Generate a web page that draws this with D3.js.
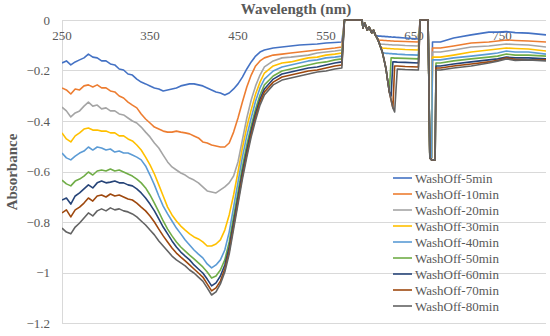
<!DOCTYPE html>
<html lang="en">
<head>
<meta charset="UTF-8">
<title>WashOff absorbance</title>
<script src="https://cdn.jsdelivr.net/npm/d3@7"></script>
<style>
    body{ margin:0; background:#fff; }
    .tickText{ font-family:"Liberation Serif", serif; font-size:13px; fill:#595959; }
    .axisTitle{ font-family:"Liberation Serif", serif; font-size:15px; font-weight:bold; fill:#595959; }
    .legendText{ font-family:"Liberation Serif", serif; font-size:13px; fill:#595959; }
    .grid{ stroke:#d9d9d9; stroke-width:1; }
    .series{ fill:none; stroke-width:1.6; stroke-linejoin:round; }
</style>
</head>
<body>
<svg width="550" height="336"></svg>
<script>
    // wavelength (nm)
    const wavelengths = [
        250,255,260,265,270,275,280,285,290,295,
        300,305,310,315,320,325,330,335,340,345,
        350,355,360,365,370,375,380,385,390,395,
        400,405,410,415,420,425,430,435,440,445,
        450,455,460,465,470,475,480,
        490,500,510,520,530,540,550,560,568,
        571,588,591,592,594,597,599,602,604,606,
        608,610,612,614,616,618,620,622,624,626,
        628,631,640,655,657,666,668,670,671,674,675,
        680,695,715,735,745,755,765,780,800
    ];

    const seriesNames = ["WashOff-5min","WashOff-10min","WashOff-20min","WashOff-30min","WashOff-40min",
        "WashOff-50min","WashOff-60min","WashOff-70min","WashOff-80min"];
    const seriesColors = ["#4472C4","#ED7D31","#A5A5A5","#FFC000","#5B9BD5","#70AD47","#264478","#9E480E","#636363"];

    const wash5 = [
        -0.170,-0.162,-0.178,-0.166,-0.158,-0.150,-0.135,-0.147,-0.150,-0.162,
        -0.162,-0.174,-0.178,-0.194,-0.198,-0.214,-0.218,-0.234,-0.246,-0.253,
        -0.261,-0.269,-0.273,-0.281,-0.277,-0.273,-0.269,-0.261,-0.257,-0.253,
        -0.253,-0.257,-0.261,-0.269,-0.277,-0.285,-0.289,-0.297,-0.289,-0.273,
        -0.253,-0.226,-0.194,-0.166,-0.143,-0.127,-0.119,
        -0.111,-0.107,-0.103,-0.099,-0.097,-0.095,-0.091,-0.089,-0.087,
        0,0,0,-0.032,-0.012,-0.040,-0.028,-0.051,-0.040,-0.059,
        -0.063,-0.064,-0.064,-0.065,-0.065,-0.066,-0.066,-0.067,-0.067,-0.068,
        -0.068,-0.069,-0.071,-0.075,0,0,-0.546,-0.546,-0.087,-0.087,-0.087,
        -0.087,-0.071,-0.059,-0.048,-0.048,-0.046,-0.050,-0.052,-0.059
    ];
    const wash10 = [
        -0.269,-0.277,-0.293,-0.273,-0.277,-0.261,-0.257,-0.265,-0.257,-0.269,
        -0.269,-0.281,-0.285,-0.301,-0.309,-0.325,-0.337,-0.348,-0.372,-0.392,
        -0.408,-0.424,-0.432,-0.440,-0.444,-0.444,-0.440,-0.444,-0.447,-0.451,
        -0.459,-0.467,-0.483,-0.487,-0.495,-0.499,-0.503,-0.503,-0.487,-0.444,
        -0.388,-0.325,-0.265,-0.218,-0.182,-0.162,-0.150,
        -0.139,-0.135,-0.131,-0.127,-0.123,-0.119,-0.115,-0.111,-0.107,
        0,0,0,-0.032,-0.012,-0.040,-0.028,-0.051,-0.040,-0.059,
        -0.071,-0.079,-0.080,-0.080,-0.081,-0.081,-0.082,-0.082,-0.083,-0.083,
        -0.084,-0.084,-0.085,-0.087,0,0,-0.546,-0.546,-0.111,-0.111,-0.111,
        -0.111,-0.103,-0.091,-0.087,-0.083,-0.079,-0.081,-0.083,-0.087
    ];
    const wash20 = [
        -0.345,-0.360,-0.384,-0.368,-0.360,-0.341,-0.325,-0.341,-0.337,-0.352,
        -0.348,-0.360,-0.360,-0.372,-0.376,-0.388,-0.400,-0.408,-0.424,-0.444,
        -0.463,-0.487,-0.507,-0.535,-0.562,-0.582,-0.594,-0.606,-0.614,-0.626,
        -0.634,-0.645,-0.661,-0.677,-0.681,-0.685,-0.673,-0.661,-0.645,-0.618,
        -0.562,-0.475,-0.388,-0.317,-0.261,-0.218,-0.186,
        -0.162,-0.150,-0.147,-0.143,-0.139,-0.131,-0.127,-0.123,-0.119,
        0,0,0,-0.032,-0.012,-0.040,-0.028,-0.051,-0.040,-0.059,
        -0.071,-0.087,-0.095,-0.096,-0.096,-0.097,-0.097,-0.098,-0.098,-0.099,
        -0.099,-0.099,-0.101,-0.103,0,0,-0.546,-0.546,-0.127,-0.127,-0.127,
        -0.127,-0.119,-0.107,-0.103,-0.099,-0.095,-0.097,-0.099,-0.107
    ];
    const wash30 = [
        -0.447,-0.471,-0.483,-0.459,-0.447,-0.432,-0.428,-0.436,-0.436,-0.440,
        -0.440,-0.447,-0.447,-0.459,-0.459,-0.471,-0.479,-0.495,-0.515,-0.543,
        -0.574,-0.610,-0.653,-0.697,-0.741,-0.772,-0.796,-0.816,-0.832,-0.847,
        -0.859,-0.867,-0.879,-0.895,-0.895,-0.887,-0.871,-0.832,-0.772,-0.693,
        -0.602,-0.507,-0.424,-0.356,-0.293,-0.246,-0.210,
        -0.182,-0.170,-0.166,-0.158,-0.150,-0.147,-0.139,-0.135,-0.131,
        0,0,0,-0.032,-0.012,-0.040,-0.028,-0.051,-0.040,-0.059,
        -0.071,-0.087,-0.107,-0.111,-0.112,-0.112,-0.113,-0.113,-0.114,-0.114,
        -0.115,-0.115,-0.117,-0.119,0,0,-0.546,-0.546,-0.147,-0.147,-0.147,
        -0.147,-0.139,-0.127,-0.119,-0.115,-0.111,-0.113,-0.115,-0.123
    ];
    const wash40 = [
        -0.527,-0.546,-0.554,-0.539,-0.527,-0.519,-0.503,-0.515,-0.503,-0.507,
        -0.515,-0.511,-0.523,-0.519,-0.527,-0.527,-0.535,-0.543,-0.554,-0.578,
        -0.614,-0.653,-0.697,-0.737,-0.768,-0.796,-0.824,-0.847,-0.871,-0.891,
        -0.911,-0.927,-0.942,-0.966,-0.982,-0.970,-0.950,-0.911,-0.840,-0.741,
        -0.642,-0.543,-0.459,-0.388,-0.321,-0.269,-0.234,
        -0.202,-0.186,-0.178,-0.170,-0.162,-0.158,-0.150,-0.147,-0.143,
        0,0,0,-0.032,-0.012,-0.040,-0.028,-0.051,-0.040,-0.059,
        -0.071,-0.087,-0.107,-0.127,-0.131,-0.132,-0.132,-0.133,-0.133,-0.134,
        -0.134,-0.135,-0.137,-0.139,0,0,-0.546,-0.546,-0.158,-0.158,-0.158,
        -0.158,-0.150,-0.143,-0.135,-0.131,-0.123,-0.127,-0.127,-0.135
    ];
    const wash50 = [
        -0.634,-0.649,-0.657,-0.638,-0.630,-0.618,-0.602,-0.614,-0.598,-0.594,
        -0.598,-0.590,-0.598,-0.594,-0.602,-0.610,-0.618,-0.630,-0.645,-0.665,
        -0.693,-0.725,-0.760,-0.796,-0.828,-0.855,-0.879,-0.899,-0.915,-0.931,
        -0.946,-0.962,-0.978,-0.998,-1.022,-1.014,-0.990,-0.950,-0.879,-0.780,
        -0.681,-0.582,-0.495,-0.420,-0.352,-0.297,-0.257,
        -0.222,-0.202,-0.194,-0.186,-0.178,-0.170,-0.166,-0.158,-0.154,
        0,0,0,-0.032,-0.012,-0.040,-0.028,-0.051,-0.040,-0.059,
        -0.071,-0.087,-0.107,-0.127,-0.158,-0.190,-0.238,-0.285,-0.150,-0.150,
        -0.151,-0.151,-0.152,-0.154,0,0,-0.546,-0.554,-0.554,-0.554,-0.170,
        -0.170,-0.162,-0.154,-0.147,-0.143,-0.135,-0.139,-0.139,-0.143
    ];
    const wash60 = [
        -0.713,-0.705,-0.729,-0.697,-0.685,-0.669,-0.653,-0.665,-0.645,-0.638,
        -0.645,-0.642,-0.638,-0.645,-0.645,-0.653,-0.657,-0.669,-0.685,-0.705,
        -0.729,-0.756,-0.788,-0.820,-0.847,-0.875,-0.899,-0.919,-0.935,-0.950,
        -0.970,-0.986,-1.002,-1.026,-1.053,-1.041,-1.014,-0.970,-0.899,-0.800,
        -0.701,-0.602,-0.515,-0.436,-0.368,-0.313,-0.273,
        -0.234,-0.214,-0.206,-0.198,-0.190,-0.186,-0.178,-0.170,-0.166,
        0,0,0,-0.032,-0.012,-0.040,-0.028,-0.051,-0.040,-0.059,
        -0.071,-0.087,-0.107,-0.127,-0.158,-0.190,-0.238,-0.285,-0.301,-0.166,
        -0.166,-0.167,-0.168,-0.170,0,0,-0.546,-0.554,-0.554,-0.554,-0.182,
        -0.182,-0.174,-0.166,-0.158,-0.154,-0.147,-0.150,-0.150,-0.154
    ];
    const wash70 = [
        -0.764,-0.752,-0.780,-0.752,-0.741,-0.725,-0.705,-0.717,-0.697,-0.693,
        -0.701,-0.689,-0.697,-0.693,-0.701,-0.709,-0.713,-0.725,-0.741,-0.756,
        -0.776,-0.800,-0.828,-0.855,-0.879,-0.903,-0.923,-0.939,-0.954,-0.970,
        -0.986,-1.002,-1.018,-1.045,-1.073,-1.061,-1.034,-0.986,-0.915,-0.816,
        -0.717,-0.618,-0.531,-0.451,-0.384,-0.325,-0.285,
        -0.246,-0.226,-0.218,-0.210,-0.202,-0.198,-0.190,-0.182,-0.178,
        0,0,0,-0.032,-0.012,-0.040,-0.028,-0.051,-0.040,-0.059,
        -0.071,-0.087,-0.107,-0.127,-0.158,-0.190,-0.238,-0.285,-0.317,-0.348,
        -0.182,-0.182,-0.184,-0.186,0,0,-0.546,-0.554,-0.554,-0.554,-0.190,
        -0.190,-0.182,-0.174,-0.166,-0.160,-0.150,-0.156,-0.158,-0.158
    ];
    const wash80 = [
        -0.824,-0.840,-0.847,-0.820,-0.804,-0.784,-0.764,-0.776,-0.756,-0.748,
        -0.756,-0.744,-0.752,-0.748,-0.756,-0.760,-0.768,-0.780,-0.796,-0.812,
        -0.832,-0.851,-0.875,-0.895,-0.915,-0.935,-0.950,-0.962,-0.974,-0.990,
        -1.002,-1.018,-1.034,-1.061,-1.089,-1.077,-1.045,-0.998,-0.927,-0.828,
        -0.729,-0.630,-0.543,-0.463,-0.396,-0.337,-0.297,
        -0.257,-0.238,-0.230,-0.222,-0.214,-0.206,-0.202,-0.194,-0.190,
        0,0,0,-0.032,-0.012,-0.040,-0.028,-0.051,-0.040,-0.059,
        -0.071,-0.087,-0.107,-0.127,-0.158,-0.190,-0.238,-0.285,-0.317,-0.348,
        -0.364,-0.194,-0.196,-0.198,0,0,-0.546,-0.554,-0.554,-0.554,-0.198,
        -0.198,-0.190,-0.182,-0.170,-0.163,-0.154,-0.160,-0.158,-0.162
    ];

    const xTicks = [250,350,450,550,650,750];
    const yTicks = [0,-0.2,-0.4,-0.6,-0.8,-1,-1.2];

    const allSeries = [wash5,wash10,wash20,wash30,wash40,wash50,wash60,wash70,wash80];

    const svg = d3.select("svg");
    const x = d3.scaleLinear().domain([250,800]).range([62,546]);
    const y = d3.scaleLinear().domain([-1.2,0]).range([323,20]);

    // horizontal gridlines
    svg.append("g").selectAll("line")
        .data(yTicks)
        .enter().append("line")
        .attr("class","grid")
        .attr("x1",x(250)).attr("x2",x(800))
        .attr("y1",d=>Math.round(y(d))+0.5).attr("y2",d=>Math.round(y(d))+0.5)

    // vertical value axis line
    svg.append("line").attr("class","grid")
        .attr("x1",x(250)+0.5).attr("x2",x(250)+0.5)
        .attr("y1",y(0)).attr("y2",y(-1.2))

    // y tick labels
    const fmt = d => d===0 ? "0" : "\u2212" + String(Math.abs(d))
    svg.append("g").selectAll("text")
        .data(yTicks)
        .enter().append("text")
        .attr("class","tickText")
        .attr("x",50)
        .attr("y",d=>y(d))
        .attr("dy","0.35em")
        .attr("text-anchor","end")
        .text(fmt)

    // x tick labels sit just under the top axis line
    svg.append("g").selectAll("text")
        .data(xTicks)
        .enter().append("text")
        .attr("class","tickText")
        .attr("x",d=>x(d))
        .attr("y",40)
        .attr("text-anchor","middle")
        .text(d=>d)

    // axis titles
    svg.append("text").attr("class","axisTitle")
        .attr("x",296).attr("y",14)
        .attr("text-anchor","middle")
        .text("Wavelength (nm)")

    svg.append("text").attr("class","axisTitle")
        .attr("transform","translate(17,172) rotate(-90)")
        .attr("text-anchor","middle")
        .text("Absorbance")

    // clip to plot area
    svg.append("clipPath").attr("id","plotClip")
        .append("rect").attr("x",x(250)).attr("y",y(0)-1)
        .attr("width",x(800)-x(250)).attr("height",y(-1.2)-y(0)+2)

    const line = d3.line()
        .x(d=>x(d[0]))
        .y(d=>y(d[1]))

    svg.append("g").attr("clip-path","url(#plotClip)")
        .selectAll("path")
        .data(allSeries)
        .enter().append("path")
        .attr("class","series")
        .attr("stroke",(d,i)=>seriesColors[i])
        .attr("d",d=>line(wavelengths.map((w,i)=>[w,d[i]])))

    // legend
    const legend = svg.append("g").selectAll("g")
        .data(seriesNames)
        .enter().append("g")
        .attr("transform",(d,i)=>`translate(393,${178+i*16})`)

    legend.append("line")
        .attr("x1",0).attr("x2",19)
        .attr("y1",0).attr("y2",0)
        .attr("stroke",(d,i)=>seriesColors[i])
        .attr("stroke-width",1.6)

    legend.append("text")
        .attr("class","legendText")
        .attr("x",22)
        .attr("dy","0.35em")
        .text(d=>d)
</script>
</body>
</html>
